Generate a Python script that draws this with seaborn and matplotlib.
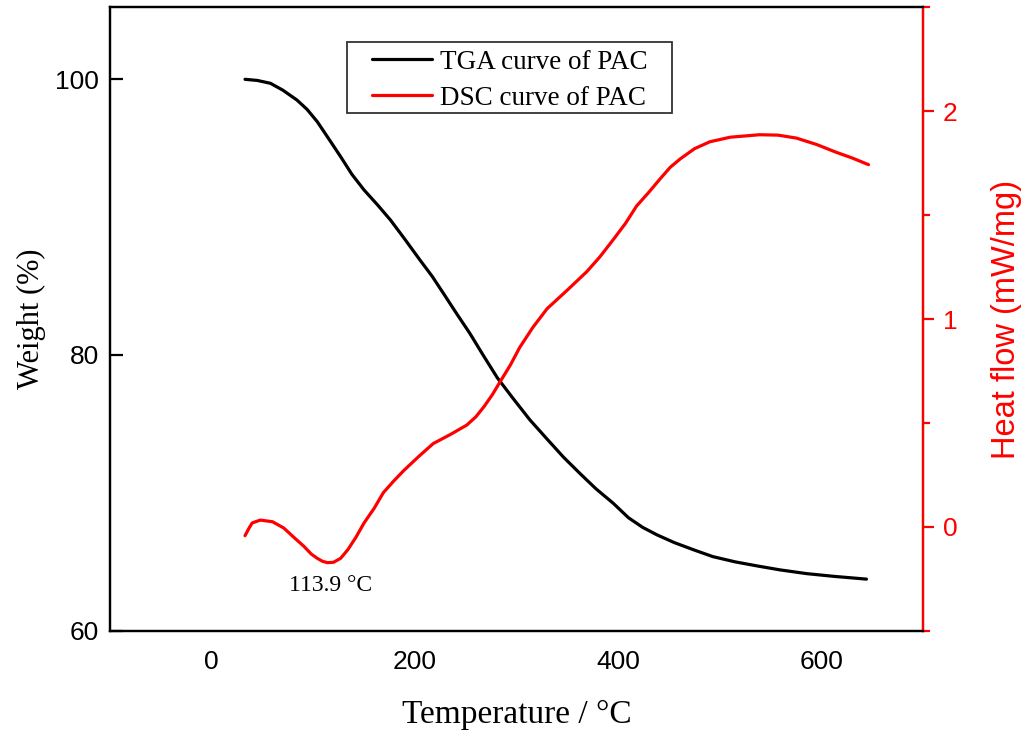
import numpy as np
import pandas as pd
import matplotlib
matplotlib.use("Agg")
import matplotlib.pyplot as plt
from matplotlib.ticker import MultipleLocator
from matplotlib.patches import Rectangle
import seaborn as sns

# TGA data (temperature in °C, weight in %)
tga_temp = [33, 45, 58, 70, 84, 94, 104, 115, 127, 138, 150, 163, 176, 190, 205,
            217, 228, 241, 254, 267, 281, 296, 313, 330, 346, 362, 378, 395, 410,
            424, 438, 455, 475, 493, 515, 537, 559, 585, 612, 644]
tga_weight = [99.98, 99.9, 99.69, 99.2, 98.48, 97.8, 96.91, 95.7, 94.37, 93.1, 91.96,
              90.9, 89.78, 88.4, 86.88, 85.7, 84.47, 83.0, 81.57, 80.0, 78.35, 76.9,
              75.3, 73.9, 72.6, 71.43, 70.3, 69.25, 68.2, 67.5, 66.96, 66.4, 65.85,
              65.38, 65.0, 64.7, 64.42, 64.15, 63.95, 63.75]

# DSC data (temperature in °C, heat flow in mW/mg)
dsc_temp = [33, 37, 40, 48, 60, 71, 81, 91, 98, 104, 109, 114, 120, 127, 134, 142,
            150, 160, 169, 179, 189, 204, 218, 235, 251, 260, 268, 276, 284, 294,
            303, 316, 330, 350, 369, 382, 395, 407, 418, 430, 441, 451, 461, 475,
            490, 510, 539, 557, 575, 595, 614, 630, 646]
dsc_heat = [-0.042, -0.005, 0.019, 0.033, 0.025, -0.005, -0.05, -0.094, -0.13, -0.151,
            -0.165, -0.172, -0.17, -0.151, -0.11, -0.05, 0.019, 0.09, 0.165, 0.22,
            0.271, 0.34, 0.401, 0.445, 0.49, 0.53, 0.579, 0.635, 0.70, 0.78, 0.863,
            0.96, 1.05, 1.14, 1.228, 1.30, 1.382, 1.46, 1.544, 1.61, 1.674, 1.73,
            1.771, 1.82, 1.853, 1.875, 1.887, 1.885, 1.871, 1.84, 1.803, 1.775, 1.743]

x_ticks = [0, 200, 400, 600]
left_ticks = [60, 80, 100]
right_ticks = [0, 1, 2]
labels = ["TGA curve of PAC", "DSC curve of PAC"]

sns.set_theme(style="white")
plt.rcParams['font.family'] = ['Liberation Sans', 'DejaVu Sans']
plt.rcParams['text.color'] = 'black'
plt.rcParams['axes.labelcolor'] = 'black'
serif = ['Liberation Serif', 'DejaVu Serif']

fig = plt.figure(figsize=(10.26, 7.31), dpi=100)
ax = fig.add_axes([0.107, 0.137, 0.793, 0.853])
ax2 = ax.twinx()

tga = pd.DataFrame({"T": tga_temp, "W": tga_weight})
dsc = pd.DataFrame({"T": dsc_temp, "H": dsc_heat})

sns.lineplot(data=tga, x="T", y="W", ax=ax, color="black", lw=2.3, legend=False)
sns.lineplot(data=dsc, x="T", y="H", ax=ax2, color="red", lw=2.3, legend=False)

ax.set_xlim(-100, 700)
ax.set_ylim(60, 105.2)
ax2.set_ylim(-0.5, 2.5)
ax.set_xticks(x_ticks)
ax.set_yticks(left_ticks)
ax2.set_yticks(right_ticks)
ax2.yaxis.set_minor_locator(MultipleLocator(0.5))

for a in (ax, ax2):
    for s in a.spines.values():
        s.set_linewidth(1.6)
        s.set_color("black")
ax2.spines['right'].set_color("red")

ax.tick_params(axis='x', direction='in', length=9, width=1.6, labelsize=19, pad=14, colors='black')
ax.tick_params(axis='y', direction='in', length=9, width=1.6, labelsize=19, pad=8, colors='black')
ax2.tick_params(axis='y', which='major', direction='out', length=8, width=1.6, labelsize=19, pad=6, colors='red')
ax2.tick_params(axis='y', which='minor', direction='out', length=5, width=1.6, colors='red', right=True)

ax.set_xlabel("Temperature / °C", fontsize=24, family=serif, labelpad=18, color='black')
ax.set_ylabel("Weight (%)", fontsize=22, family=serif, labelpad=6, color='black')
ax2.set_ylabel("Heat flow (mW/mg)", fontsize=23.5, color="red", labelpad=24)

ax.text(117, 63.3, "113.9 °C", fontsize=17, family=serif, ha='center', va='center', color='black')

# legend frame
x0, x1 = (347 - 110) / 813, (672 - 110) / 813
y0, y1 = (631 - 113) / 624, (631 - 42) / 624
ax.add_patch(Rectangle((x0, y0), x1 - x0, y1 - y0, transform=ax.transAxes,
                       facecolor='white', edgecolor='#333333', lw=1.3, zorder=5))
handles = ax.get_lines()[:1] + ax2.get_lines()[:1]
leg = ax.legend(handles, labels, loc='center', bbox_to_anchor=((x0 + x1) / 2, (y0 + y1) / 2 - 0.004),
                frameon=False, prop={'family': serif, 'size': 19.5}, handlelength=2.2,
                borderpad=0.2, labelspacing=0.42, handletextpad=0.3)
leg.set_zorder(6)
for t in leg.get_texts():
    t.set_color('black')

fig.savefig("out.png", dpi=100)
